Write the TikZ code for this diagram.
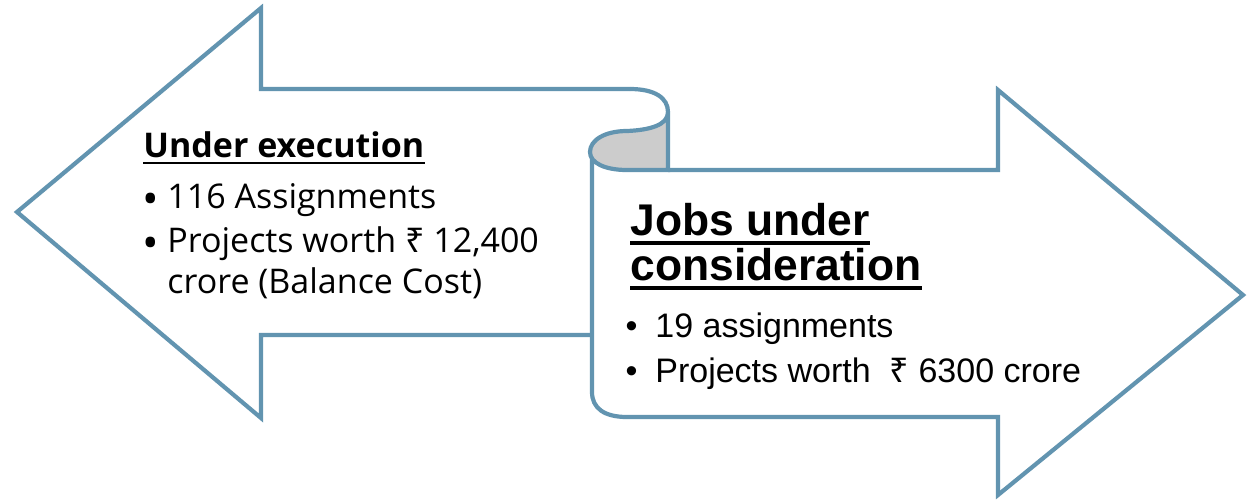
\documentclass[tikz,border=0pt]{standalone}
\usepackage{fontspec}
\setmainfont{Liberation Sans}
\newfontfamily\tahomafont{Open Sans}
\newfontfamily\rupeefont{Noto Sans}
\usetikzlibrary{positioning}
\definecolor{scrollblue}{RGB}{98,148,176}
\definecolor{curlgray}{RGB}{204,204,204}
\newcommand{\rs}{{\rupeefont ₹}}
\newcommand{\lbul}{\llap{\smash{\raisebox{-3pt}{\fontsize{22}{20}\selectfont\textbullet}}\hspace{4pt}}}
\newcommand{\rbul}{\llap{\textbullet\hspace{9pt}}}
\tikzset{
    %Define style for the arrow outlines
    scroll/.style={
           draw=scrollblue,
           line width=2.1pt,
           line join=miter,
           fill=white},
    %Define style for the left texts
    lefttext/.style={
           anchor=base west,
           inner sep=0pt,
           font=\tahomafont\fontsize{17}{20}\selectfont},
    lefthead/.style={
           lefttext,
           font=\tahomafont\bfseries\fontsize{17}{20}\selectfont},
    %Define style for the right texts
    righttext/.style={
           anchor=base west,
           inner sep=0pt,
           font=\fontsize{17}{20}\selectfont},
    righthead/.style={
           righttext,
           font=\bfseries\fontsize{22.2}{26}\selectfont},
    % Define underline style
    uline/.style={
           line width=1.3pt}
}

\begin{document}
\begin{tikzpicture}[x=0.5pt,y=-0.5pt]
		\useasboundingbox (0,0) rectangle (1249,500);
		% left arrow
		\draw[scroll] (630,89) -- (261,89) -- (261,8) -- (17,212) -- (261,418) -- (261,335) -- (592,335);
		% right arrow
		\draw[scroll] (592,152) -- (592,392) .. controls (592,408) and (604,417) .. (627,417) -- (998,417) -- (998,495) -- (1243,295) -- (998,90) -- (998,170) -- (668,170);
		% curl
		\draw[scroll, fill=curlgray] (668,112) -- (668,170) -- (627,170) .. controls (605,170) and (590,163) .. (590,152) .. controls (590,140) and (605,131) .. (627,131) .. controls (650,130) and (668,125) .. (668,112) -- cycle;
		\draw[scroll, fill=none] (630,89) .. controls (655,89) and (668,98) .. (668,112);
		% left texts
		\node[lefthead] (exechead) at (143,157) {Under execution};
		\draw[uline] ([yshift=-3pt]exechead.base west) -- ([yshift=-3pt]exechead.base east);
		\node[lefttext] (assign) at (167,208) {\lbul 116 Assignments};
		\node[lefttext] (worth) at (167,252) {\lbul Projects worth \rs\ 12,400};
		\node[lefttext] (balance) at (167,293) {crore (Balance Cost)};
		% right texts
		\node[righthead] (jobs) at (630,235) {Jobs under};
		\node[righthead] (consid) at (630,280) {consideration};
		\draw[uline, line width=1.8pt] ([yshift=-4pt]jobs.base west) -- ([yshift=-4pt]jobs.base east);
		\draw[uline, line width=1.8pt] ([yshift=-4pt]consid.base west) -- ([yshift=-4pt]consid.base east);
		\node[righttext] (nineteen) at (655,337) {\rbul 19 assignments};
		\node[righttext] (sixthree) at (655,382) {\rbul Projects worth \ \rs\ 6300 crore};
	\end{tikzpicture}
\end{document}
